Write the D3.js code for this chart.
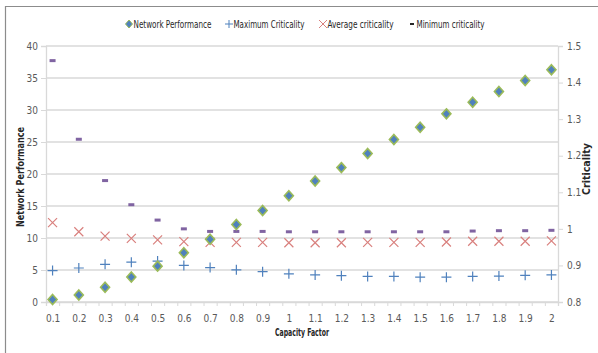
<!DOCTYPE html>
<html><head><meta charset="utf-8">
<script src="https://cdn.jsdelivr.net/npm/d3@7/dist/d3.min.js"></script>
<style>body{margin:0;background:#fff}svg{display:block}text{font-family:"DejaVu Sans Condensed",Roboto,sans-serif}</style>
</head><body><svg id="c" width="598" height="353"></svg>
<script>
const capacity = [0.1,0.2,0.3,0.4,0.5,0.6,0.7,0.8,0.9,1.0,1.1,1.2,1.3,1.4,1.5,1.6,1.7,1.8,1.9,2.0];
const networkPerformance = [0.4,1.1,2.3,3.9,5.6,7.7,9.8,12.1,14.3,16.6,18.9,21.0,23.2,25.4,27.3,29.4,31.2,32.9,34.6,36.3];
const maxCriticality = [0.886,0.893,0.903,0.909,0.912,0.900,0.894,0.888,0.883,0.877,0.874,0.872,0.870,0.870,0.868,0.868,0.870,0.871,0.873,0.874];
const avgCriticality = [1.017,0.992,0.980,0.974,0.970,0.965,0.963,0.963,0.963,0.962,0.962,0.962,0.963,0.963,0.963,0.964,0.966,0.966,0.966,0.967];
const minCriticality = [1.460,1.245,1.132,1.066,1.024,1.000,0.993,0.993,0.993,0.992,0.992,0.992,0.992,0.992,0.992,0.992,0.994,0.995,0.995,0.996];
const leftTicks = [0,5,10,15,20,25,30,35,40];
const rightTicks = [0.8,0.9,1.0,1.1,1.2,1.3,1.4,1.5];
const seriesNames = ["Network Performance","Maximum Criticality","Average criticality","Minimum criticality"];

const svg = d3.select("#c");
const L=46, R=558, T=46, B=302;
const x = d3.scaleLinear().domain([0.075,2.025]).range([L,R]);
const yL = d3.scaleLinear().domain([0,40]).range([B,T]);
const yR = d3.scaleLinear().domain([0.8,1.5]).range([B,T]);
const grey="#d9d9d9", txt="#595959";

// outer frame
svg.append("path").attr("d",`M5.5,353 V6.5 H598`).attr("fill","none").attr("stroke","#8c8c8c").attr("stroke-width",1.2);

// gridlines
svg.append("g").selectAll("line").data(leftTicks).join("line")
  .attr("x1",L).attr("x2",R).attr("y1",d=>yL(d)).attr("y2",d=>yL(d))
  .attr("stroke",grey).attr("stroke-width",1.5);

const fmt = d=>d3.format("")(+(+d).toFixed(1));
svg.append("g").attr("transform",`translate(${L},0)`)
  .call(d3.axisLeft(yL).tickValues(leftTicks).tickSize(5).tickPadding(3).tickFormat(d3.format("d")));
svg.append("g").attr("transform",`translate(${R},0)`)
  .call(d3.axisRight(yR).tickValues(rightTicks).tickSize(5).tickPadding(4).tickFormat(fmt));
const minor = d3.range(0,40).map(i=>+(0.075+i*0.05).toFixed(3));
svg.append("g").attr("transform",`translate(0,${B})`)
  .call(d3.axisBottom(x).tickValues(minor).tickSize(4).tickFormat(""));
svg.append("g").attr("transform",`translate(0,${B})`)
  .call(d3.axisBottom(x).tickValues(capacity).tickSize(0).tickPadding(13).tickFormat(fmt))
  .call(g=>g.select(".domain").remove());
svg.selectAll(".domain").attr("stroke",grey).attr("stroke-width",1.3);
svg.selectAll(".tick line").attr("stroke",grey).attr("stroke-width",1);
svg.selectAll(".tick text").attr("fill",txt).attr("font-size",10);

// axis titles
const title = (tx, len)=>svg.append("text").attr("text-anchor","middle").attr("font-size",10)
  .attr("font-weight","bold").attr("fill","#262626").attr("textLength",len).attr("lengthAdjust","spacingAndGlyphs").text(tx);
title("Network Performance",100).attr("transform",`translate(24,${(T+B)/2+3}) rotate(-90)`);
title("Criticality",52).attr("transform",`translate(590,169) rotate(-90)`);
title("Capacity Factor",54).attr("x",(L+R)/2).attr("y",336);

// markers
const diamond = (g,cx,cy)=>g.append("path").attr("d",`M${cx},${cy-5}L${cx+4.5},${cy}L${cx},${cy+5}L${cx-4.5},${cy}Z`)
  .attr("fill","#4f81bd").attr("stroke","#9bbb59").attr("stroke-width",1.6);
const plus = (g,cx,cy)=>g.append("path").attr("d",`M${cx-5},${cy}H${cx+5}M${cx},${cy-5}V${cy+5}`)
  .attr("stroke","#4f81bd").attr("stroke-width",1.2).attr("fill","none");
const cross = (g,cx,cy)=>g.append("path").attr("d",`M${cx-4.5},${cy-4.5}L${cx+4.5},${cy+4.5}M${cx-4.5},${cy+4.5}L${cx+4.5},${cy-4.5}`)
  .attr("stroke","#d9807e").attr("stroke-width",1.2).attr("fill","none");
const dash = (g,cx,cy)=>g.append("rect").attr("x",cx-3).attr("y",cy-1.5).attr("width",6).attr("height",3)
  .attr("fill","#8064a2");

const gm = svg.append("g");
capacity.forEach((c,i)=>dash(gm,x(c),yR(minCriticality[i])));
capacity.forEach((c,i)=>cross(gm,x(c),yR(avgCriticality[i])));
capacity.forEach((c,i)=>plus(gm,x(c),yR(maxCriticality[i])));
capacity.forEach((c,i)=>diamond(gm,x(c),yL(networkPerformance[i])));

// legend
const lg = svg.append("g");
const lx=[129,229,323,412];
const lw=[78,71,66,68];
seriesNames.forEach((n,i)=>{
  const c=lx[i];
  if(i===0){lg.append("path").attr("d",`M${c},20L${c+3.5},24L${c},28L${c-3.5},24Z`).attr("fill","#4f81bd").attr("stroke","#9bbb59").attr("stroke-width",1);}
  else if(i===1){lg.append("path").attr("d",`M${c-4},24H${c+4}M${c},20V28`).attr("stroke","#4f81bd").attr("fill","none");}
  else if(i===2){lg.append("path").attr("d",`M${c-4},20L${c+4},28M${c-4},28L${c+4},20`).attr("stroke","#d9807e").attr("fill","none");}
  else {lg.append("rect").attr("x",c-2).attr("y",23).attr("width",4).attr("height",2).attr("fill","#262626");}
  lg.append("text").attr("x",c+4.5).attr("y",27.5).attr("font-size",10).attr("fill","#262626")
    .attr("textLength",lw[i]).attr("lengthAdjust","spacingAndGlyphs").text(n);
});
</script></body></html>
